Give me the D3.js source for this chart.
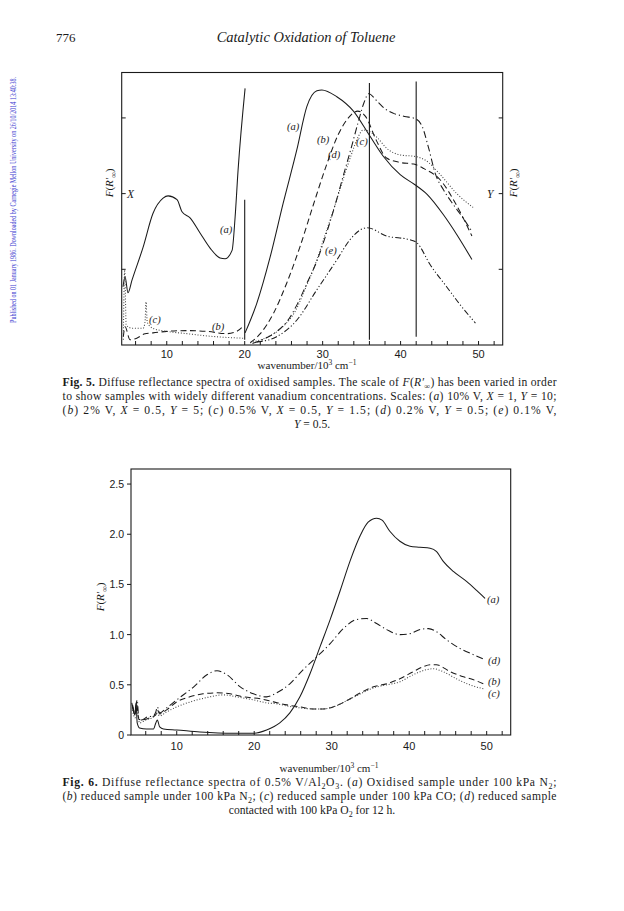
<!DOCTYPE html>
<html><head><meta charset="utf-8">
<script src="https://cdn.jsdelivr.net/npm/d3@7/dist/d3.min.js"></script>
<style>
html,body{margin:0;padding:0;background:#fff;}
svg{display:block;}
</style></head>
<body>
<script>
// ---------------- DATA ----------------
const xTickLabels = [10, 20, 30, 40, 50];
const xMinorTicks = [6,8,10,12,14,16,18,20,22,24,26,28,30,32,34,36,38,40,42,44,46,48,50,52];
const fig5YTicks = [1, 2, 3];
const fig6YTicks = [0, 0.5, 1.0, 1.5, 2.0, 2.5];
const fig6YTickLabels = ["0", "0.5", "1.0", "1.5", "2.0", "2.5"];

// Fig. 5 (arbitrary units; left part on scale X, right part on scale Y)
const f5_a_left = [[4.39,0.77],[4.65,0.9],[5.03,0.69],[5.55,0.86],[6.96,1.29],[8.24,1.74],[9.53,1.94],[10.17,1.97],[11.32,1.92],[11.96,1.76],[12.99,1.68],[14.27,1.48],[15.56,1.28],[16.84,1.15],[17.48,1.14],[18.38,1.25],[18.77,1.69],[19.15,2.31],[20.05,3.39]];
const f5_b_left = [[4.43,0.11],[4.65,0.24],[5.29,0.07],[6.15,0.09],[7.21,0.15],[8.24,0.16],[10.0,0.18],[12.57,0.19],[15.13,0.18],[17.7,0.15],[18.99,0.18],[19.92,0.26]];
const f5_c_left = [[4.43,0.07],[4.6,0.99],[4.8,0.26],[5.67,0.22],[6.96,0.22],[7.21,0.3],[7.34,0.57],[7.5,0.3],[8.24,0.22],[10.0,0.18],[12.57,0.15],[15.13,0.12],[17.7,0.1],[19.8,0.09]];
const f5_a_right = [[20.05,0.16],[21.55,0.55],[23.26,1.16],[24.93,1.87],[26.69,2.58],[27.97,3.15],[29.26,3.36],[29.9,3.37],[31.82,3.28],[33.95,3.09],[36.0,2.77],[37.8,2.49],[39.95,2.25],[41.8,2.12],[43.4,1.99],[45.5,1.72],[47.2,1.46],[49.15,1.13]];
const f5_b_right = [[20.7,0.03],[22.0,0.15],[23.7,0.42],[25.4,0.82],[27.1,1.3],[28.8,1.85],[30.5,2.38],[32.0,2.78],[33.3,3.0],[34.5,3.09],[35.5,3.02],[36.9,2.7],[38.2,2.47],[40.0,2.41],[41.7,2.39],[43.0,2.33],[45.1,2.18],[47.0,1.88],[49.15,1.44]];
const f5_c_right = [[20.7,0.03],[22.8,0.1],[25.0,0.25],[26.5,0.45],[27.8,0.75],[29.0,1.05],[30.3,1.45],[31.5,1.82],[32.6,2.18],[33.7,2.52],[34.6,2.76],[35.2,2.84],[36.0,2.82],[37.0,2.74],[38.2,2.6],[40.0,2.51],[41.9,2.49],[43.2,2.44],[45.1,2.25],[47.2,2.0],[49.4,1.81]];
const f5_d_right = [[21.0,0.02],[22.5,0.08],[24.0,0.17],[25.5,0.32],[26.8,0.55],[28.0,0.82],[29.3,1.12],[30.5,1.48],[31.6,1.85],[32.6,2.22],[33.6,2.58],[34.5,2.92],[35.3,3.2],[35.9,3.32],[37.0,3.22],[38.0,3.12],[39.1,3.06],[40.5,3.02],[41.9,2.99],[42.8,2.88],[43.6,2.6],[44.5,2.25],[45.5,2.05],[46.8,1.85],[48.0,1.68],[49.15,1.5]];
const f5_e_right = [[21.55,0.04],[24.1,0.11],[26.7,0.33],[29.26,0.73],[31.8,1.12],[33.5,1.39],[35.2,1.54],[35.7,1.55],[38.2,1.44],[41.2,1.39],[42.1,1.35],[43.8,1.06],[45.9,0.77],[47.65,0.53],[49.6,0.29]];
// vertical marker lines in Fig. 5: [wavenumber, from, to]
const f5_markers = [[20, 0.07, 1.92], [36, 0.07, 3.46], [42, 0.11, 3.48]];

// Fig. 6 (F(R'∞))
const f6_a = [[4.2,0.32],[4.4,0.25],[4.6,0.2],[4.75,0.32],[4.9,0.12],[5.2,0.07],[6.1,0.06],[7.0,0.06],[7.3,0.12],[7.5,0.15],[7.8,0.08],[8.3,0.06],[10.0,0.05],[13.0,0.03],[17.3,0.017],[19.9,0.017],[21.6,0.05],[23.3,0.12],[24.6,0.22],[25.9,0.38],[27.2,0.61],[28.5,0.88],[29.8,1.15],[31.1,1.44],[32.4,1.74],[33.7,1.99],[34.7,2.12],[35.8,2.16],[36.5,2.14],[37.5,2.03],[38.8,1.93],[40.1,1.88],[41.4,1.87],[42.7,1.86],[43.5,1.83],[44.4,1.73],[45.7,1.63],[47.4,1.53],[48.7,1.44],[49.8,1.36]];
const f6_b = [[4.3,0.28],[4.6,0.2],[4.85,0.3],[5.1,0.16],[5.5,0.15],[6.5,0.17],[7.3,0.2],[7.5,0.25],[7.8,0.21],[8.7,0.25],[10.0,0.33],[11.7,0.38],[13.4,0.41],[15.2,0.42],[16.9,0.41],[18.6,0.38],[20.8,0.36],[22.5,0.33],[24.2,0.3],[25.9,0.28],[27.6,0.26],[28.9,0.26],[30.2,0.28],[31.9,0.34],[33.7,0.42],[35.4,0.48],[37.1,0.51],[38.8,0.56],[40.5,0.63],[41.8,0.68],[42.7,0.7],[43.5,0.7],[45.3,0.63],[47.0,0.58],[48.3,0.55],[49.6,0.51]];
const f6_c = [[4.3,0.25],[4.6,0.17],[4.9,0.22],[5.2,0.12],[6.0,0.15],[7.0,0.18],[7.4,0.22],[7.8,0.19],[8.7,0.23],[10.0,0.28],[12.2,0.34],[14.3,0.38],[16.0,0.4],[17.7,0.38],[19.9,0.35],[21.6,0.32],[23.0,0.31],[24.2,0.29],[25.9,0.27],[27.6,0.26],[28.9,0.26],[30.2,0.28],[31.9,0.34],[33.7,0.41],[35.4,0.47],[37.1,0.5],[38.8,0.53],[40.5,0.6],[42.2,0.65],[43.1,0.66],[44.4,0.63],[46.1,0.56],[47.8,0.5],[49.6,0.46]];
const f6_d = [[4.3,0.3],[4.6,0.22],[4.9,0.35],[5.1,0.17],[5.5,0.15],[6.2,0.18],[7.0,0.19],[7.3,0.23],[7.5,0.28],[7.8,0.22],[8.7,0.27],[10.0,0.35],[12.2,0.48],[13.9,0.6],[15.2,0.64],[16.5,0.6],[18.2,0.48],[19.9,0.41],[21.6,0.38],[22.9,0.42],[24.6,0.51],[26.3,0.65],[28.1,0.78],[29.8,0.91],[31.5,1.06],[33.2,1.15],[34.5,1.16],[35.8,1.11],[37.1,1.05],[38.8,1.0],[40.1,1.01],[41.4,1.05],[42.5,1.06],[43.5,1.03],[44.8,0.95],[46.6,0.86],[48.3,0.8],[49.8,0.75]];

// ---------------- DRAW ----------------
const W = 624, H = 911;
const svg = d3.select("body").append("svg").attr("width", W).attr("height", H)
  .style("font-family", "'Liberation Serif','Times New Roman',serif");
svg.append("rect").attr("width", W).attr("height", H).attr("fill", "#fff");

const ink = "#1a1a1a";
const sans = "'Liberation Sans',Arial,Helvetica,sans-serif";

// header
svg.append("text").attr("x", 56).attr("y", 42).attr("font-size", 13).attr("fill", ink).text("776");
svg.append("text").attr("x", 306).attr("y", 42).attr("font-size", 14.5).attr("font-style", "italic")
  .attr("text-anchor", "middle").attr("fill", ink).text("Catalytic Oxidation of Toluene");

// side note
svg.append("text").attr("transform", "translate(16,200) rotate(-90)")
  .attr("text-anchor", "middle").attr("font-size", 8).attr("fill", "#3c3cd0")
  .attr("textLength", 246).attr("lengthAdjust", "spacingAndGlyphs")
  .attr("font-family", "'Liberation Serif',serif")
  .text("Published on 01 January 1986. Downloaded by Carnegie Mellon University on 26/10/2014 13:40:38.");

function fLabel(g, x, y, size) {
  const t = g.append("text").attr("transform", `translate(${x},${y}) rotate(-90)`)
    .attr("text-anchor", "middle").attr("font-size", size).attr("fill", ink);
  t.append("tspan").attr("font-style", "italic").text("F");
  t.append("tspan").text("(");
  t.append("tspan").attr("font-style", "italic").text("R′");
  t.append("tspan").attr("font-size", size * 0.7).attr("dy", 3).text("∞");
  t.append("tspan").attr("dy", -3).text(")");
}
function xTitle(g, x, y) {
  const t = g.append("text").attr("x", x).attr("y", y).attr("text-anchor", "middle")
    .attr("font-size", 11).attr("fill", ink);
  t.append("tspan").text("wavenumber/10");
  t.append("tspan").attr("font-size", 7.5).attr("dy", -4).text("3");
  t.append("tspan").attr("dy", 4).text(" cm");
  t.append("tspan").attr("font-size", 7.5).attr("dy", -4).text("−1");
}
function styleLine(p, dash, color) {
  p.attr("fill", "none").attr("stroke", color || ink).attr("stroke-width", 1.05)
    .attr("stroke-linejoin", "round");
  if (dash) p.attr("stroke-dasharray", dash);
  return p;
}
const dashB = "6,3.5", dotC = "1,1.8", dashD = "7,3,1.2,3", dashE = "6,2.2,1.2,2.2,1.2,2.2";

// ---------- Fig. 5 ----------
{
  const x = d3.scaleLinear().domain([4.22, 53.1]).range([121.7, 502.7]);
  const y = d3.scaleLinear().domain([0, 3.6]).range([345, 72.5]);
  const g = svg.append("g");
  const line = d3.line().x(d => x(d[0])).y(d => y(d[1])).curve(d3.curveMonotoneX);

  g.append("rect").attr("x", x.range()[0]).attr("y", y.range()[1])
    .attr("width", x.range()[1] - x.range()[0]).attr("height", y.range()[0] - y.range()[1])
    .attr("fill", "none").attr("stroke", ink).attr("stroke-width", 1.1);

  g.selectAll(".mt").data(xMinorTicks).join("line")
    .attr("x1", d => x(d)).attr("x2", d => x(d)).attr("y1", 345).attr("y2", 341)
    .attr("stroke", ink).attr("stroke-width", 1);
  g.selectAll(".xl").data(xTickLabels).join("text")
    .attr("x", d => x(d)).attr("y", 358).attr("text-anchor", "middle")
    .attr("font-family", sans).attr("font-size", 11).attr("fill", ink).text(d => d);
  g.selectAll(".yl").data(fig5YTicks).join("line")
    .attr("x1", x.range()[0]).attr("x2", x.range()[0] + 4).attr("y1", d => y(d)).attr("y2", d => y(d))
    .attr("stroke", ink);
  g.selectAll(".yr").data(fig5YTicks).join("line")
    .attr("x1", x.range()[1]).attr("x2", x.range()[1] - 4).attr("y1", d => y(d)).attr("y2", d => y(d))
    .attr("stroke", ink);
  g.append("text").attr("x", 127).attr("y", y(2) + 4).attr("font-size", 11.5).attr("font-style", "italic").attr("fill", ink).text("X");
  g.append("text").attr("x", 487).attr("y", y(2) + 4).attr("font-size", 11.5).attr("font-style", "italic").attr("fill", ink).text("Y");
  fLabel(g, 113, 183, 11);
  fLabel(g, 517, 183, 11);
  xTitle(g, 307, 369);

  g.selectAll(".mk").data(f5_markers).join("line")
    .attr("x1", d => x(d[0])).attr("x2", d => x(d[0])).attr("y1", d => y(d[1])).attr("y2", d => y(d[2]))
    .attr("stroke", ink).attr("stroke-width", 1.1);

  styleLine(g.append("path").attr("d", line(f5_a_left)));
  styleLine(g.append("path").attr("d", line(f5_b_left)), dashB);
  styleLine(g.append("path").attr("d", line(f5_c_left)), dotC, "#444");
  styleLine(g.append("path").attr("d", line(f5_a_right)));
  styleLine(g.append("path").attr("d", line(f5_b_right)), dashB);
  styleLine(g.append("path").attr("d", line(f5_c_right)), dotC, "#444");
  styleLine(g.append("path").attr("d", line(f5_d_right)), dashD);
  styleLine(g.append("path").attr("d", line(f5_e_right)), dashE);

  const labs = [["(a)", 220, 233], ["(a)", 287, 130], ["(b)", 212, 330], ["(c)", 149, 323],
                ["(b)", 317, 143], ["(d)", 328, 158], ["(c)", 356, 145], ["(e)", 325, 254]];
  g.selectAll(".lab").data(labs).join("text")
    .attr("x", d => d[1]).attr("y", d => d[2]).attr("font-size", 10.5).attr("font-style", "italic")
    .attr("fill", ink).text(d => d[0]);
}

// captions
function capLine(y, parts, justify, anchorMid) {
  const t = svg.append("text").attr("y", y).attr("font-size", 11.6).attr("fill", ink);
  if (anchorMid) t.attr("x", 312).attr("text-anchor", "middle");
  else t.attr("x", 62.5);
  if (justify) t.attr("textLength", 494).attr("lengthAdjust", "spacing");
  parts.forEach(p => {
    const s = t.append("tspan").text(p.t);
    if (p.b) s.attr("font-weight", "bold");
    if (p.i) s.attr("font-style", "italic");
    if (p.sub) s.attr("font-size", 8).attr("dy", 2.5);
    if (p.up) s.attr("dy", -2.5);
  });
}
capLine(386, [{t:"Fig. 5.", b:1}, {t:" Diffuse reflectance spectra of oxidised samples. The scale of "}, {t:"F", i:1}, {t:"("}, {t:"R′", i:1}, {t:"∞", sub:1}, {t:") has been varied in order", up:1}], true);
capLine(400, [{t:"to show samples with widely different vanadium concentrations. Scales: ("}, {t:"a", i:1}, {t:") 10% V, "}, {t:"X", i:1}, {t:" = 1, "}, {t:"Y", i:1}, {t:" = 10;"}], true);
capLine(414, [{t:"("}, {t:"b", i:1}, {t:") 2% V, "}, {t:"X", i:1}, {t:" = 0.5, "}, {t:"Y", i:1}, {t:" = 5; ("}, {t:"c", i:1}, {t:") 0.5% V, "}, {t:"X", i:1}, {t:" = 0.5, "}, {t:"Y", i:1}, {t:" = 1.5; ("}, {t:"d", i:1}, {t:") 0.2% V, "}, {t:"Y", i:1}, {t:" = 0.5; ("}, {t:"e", i:1}, {t:") 0.1% V,"}], true);
capLine(428, [{t:"Y", i:1}, {t:" = 0.5."}], false, true);

// ---------- Fig. 6 ----------
{
  const x = d3.scaleLinear().domain([4.1, 53.1]).range([131, 510.7]);
  const y = d3.scaleLinear().domain([0, 2.65]).range([735, 469]);
  const g = svg.append("g");
  const line = d3.line().x(d => x(d[0])).y(d => y(d[1])).curve(d3.curveMonotoneX);

  g.append("rect").attr("x", x.range()[0]).attr("y", y.range()[1])
    .attr("width", x.range()[1] - x.range()[0]).attr("height", y.range()[0] - y.range()[1])
    .attr("fill", "none").attr("stroke", ink).attr("stroke-width", 1.1);

  g.selectAll(".mt").data(xMinorTicks).join("line")
    .attr("x1", d => x(d)).attr("x2", d => x(d)).attr("y1", 735).attr("y2", 731)
    .attr("stroke", ink);
  g.selectAll(".xl").data(xTickLabels).join("text")
    .attr("x", d => x(d)).attr("y", 750).attr("text-anchor", "middle")
    .attr("font-family", sans).attr("font-size", 11).attr("fill", ink).text(d => d);
  g.selectAll(".yt").data(fig6YTicks).join("line")
    .attr("x1", 131).attr("x2", 127).attr("y1", d => y(d)).attr("y2", d => y(d)).attr("stroke", ink);
  g.selectAll(".yl").data(fig6YTicks).join("text")
    .attr("x", 124).attr("y", d => y(d) + 4).attr("text-anchor", "end")
    .attr("font-family", sans).attr("font-size", 10.5).attr("fill", ink)
    .text((d, i) => fig6YTickLabels[i]);
  fLabel(g, 104, 597, 11);
  xTitle(g, 329, 772);

  styleLine(g.append("path").attr("d", line(f6_a)));
  styleLine(g.append("path").attr("d", line(f6_b)), dashB);
  styleLine(g.append("path").attr("d", line(f6_c)), dotC, "#444");
  styleLine(g.append("path").attr("d", line(f6_d)), dashD);

  const labs = [["(a)", 487, 603], ["(d)", 488, 664], ["(b)", 488, 685], ["(c)", 488, 697]];
  g.selectAll(".lab").data(labs).join("text")
    .attr("x", d => d[1]).attr("y", d => d[2]).attr("font-size", 10.5).attr("font-style", "italic")
    .attr("fill", ink).text(d => d[0]);
}

capLine(786, [{t:"Fig. 6.", b:1}, {t:" Diffuse reflectance spectra of 0.5% V/Al"}, {t:"2", sub:1}, {t:"O", up:1}, {t:"3", sub:1}, {t:". (", up:1}, {t:"a", i:1}, {t:") Oxidised sample under 100 kPa N"}, {t:"2", sub:1}, {t:";", up:1}], true);
capLine(800, [{t:"("}, {t:"b", i:1}, {t:") reduced sample under 100 kPa N"}, {t:"2", sub:1}, {t:"; (", up:1}, {t:"c", i:1}, {t:") reduced sample under 100 kPa CO; ("}, {t:"d", i:1}, {t:") reduced sample"}], true);
capLine(814, [{t:"contacted with 100 kPa O"}, {t:"2", sub:1}, {t:" for 12 h.", up:1}], false, true);
</script>
</body></html>
